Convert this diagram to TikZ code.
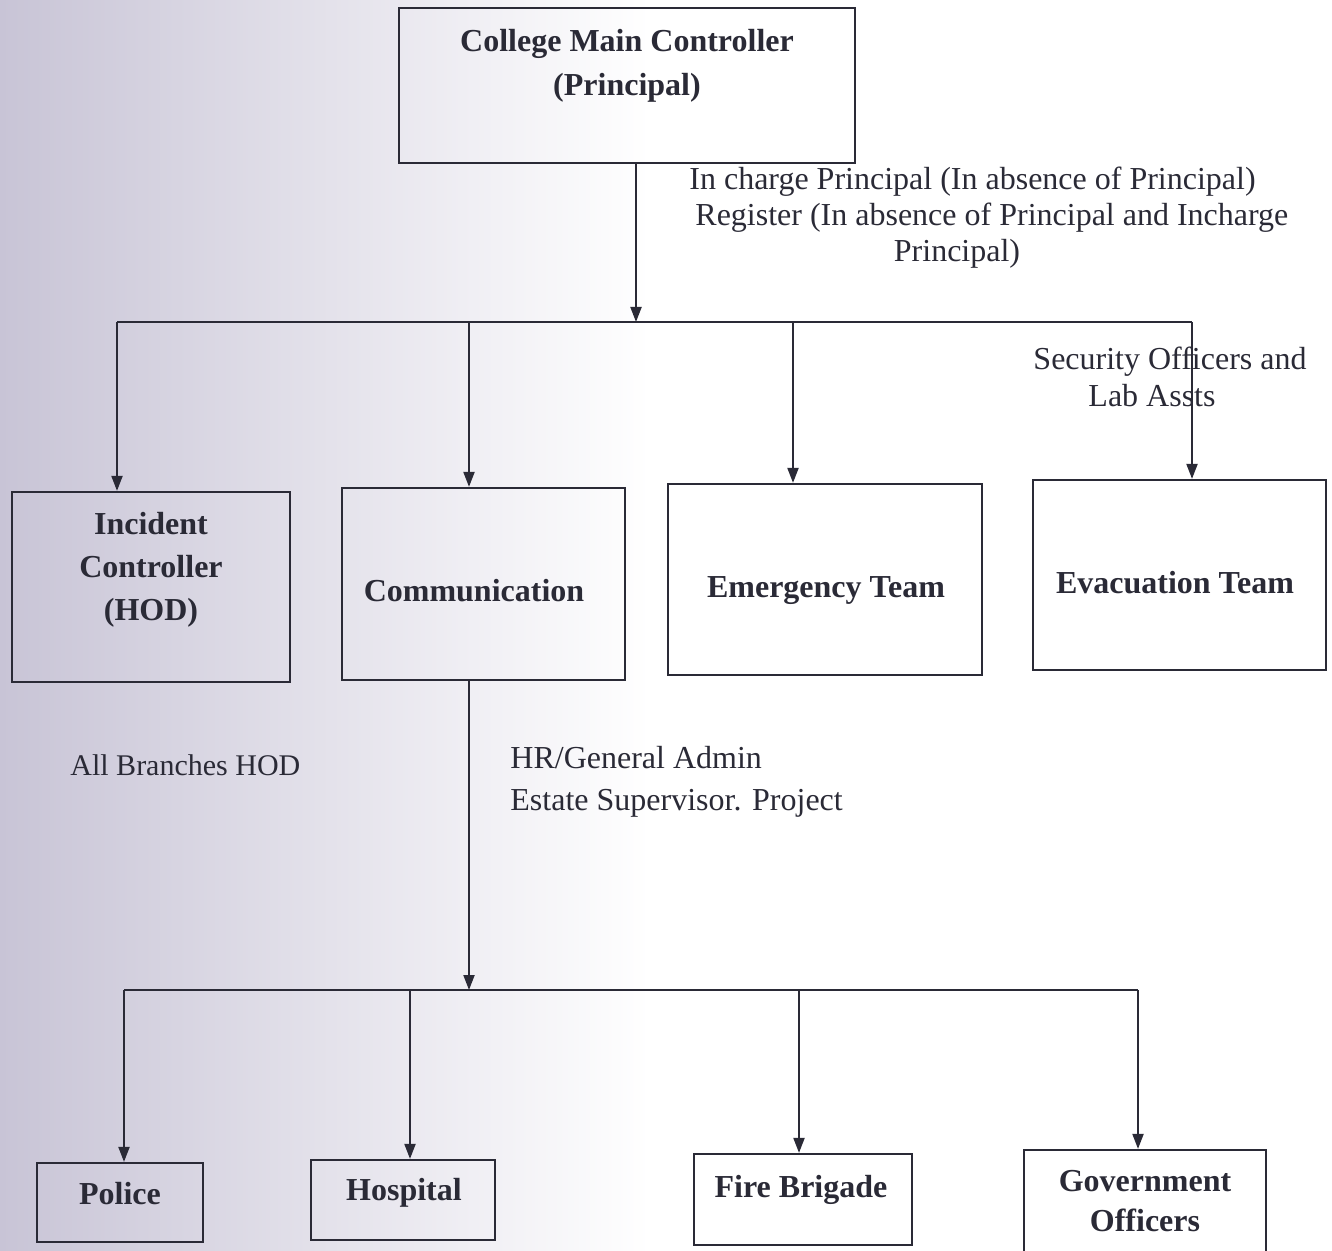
\documentclass[tikz,border=0pt]{standalone}
\usepackage{fontspec}
\setmainfont{Liberation Serif}
\usetikzlibrary{arrows.meta}
\definecolor{ink}{RGB}{42,42,54}
\definecolor{scan}{RGB}{200,196,214}
\begin{document}
\begin{tikzpicture}[x=0.5pt,y=-0.5pt,
  frame/.style={draw=ink, line width=1.1pt, inner sep=0pt},
  btxt/.style={font=\fontsize{16}{21.5}\selectfont\bfseries, align=center, text=ink, inner sep=0pt},
  rtxt/.style={font=\fontsize{16}{18.5}\selectfont, text=ink, inner sep=0pt},
  conn/.style={draw=ink, line width=1pt},
  arr/.style={conn, -{Triangle[width=5.5pt,length=7.5pt]}}]
\useasboundingbox (0,0) rectangle (1332,1251);
\shade[left color=scan, right color=white] (0,0) rectangle (650,1251);
\begin{scope}
\clip (0,0) rectangle (1332,1251);
% boxes
\node[frame, minimum width=228pt, minimum height=77.5pt] (main) at (627,85.5) {};
\node[frame, minimum width=139pt, minimum height=95pt] (inc) at (151,587) {};
\node[frame, minimum width=141.5pt, minimum height=96pt] (com) at (483.5,584) {};
\node[frame, minimum width=157pt, minimum height=95.5pt] (eme) at (825,579.5) {};
\node[frame, minimum width=146.5pt, minimum height=95pt] (eva) at (1179.5,575) {};
\node[frame, minimum width=83pt, minimum height=39.5pt] (pol) at (120,1202.5) {};
\node[frame, minimum width=92pt, minimum height=40pt] (hos) at (403,1200) {};
\node[frame, minimum width=109pt, minimum height=45.5pt] (fir) at (803,1199.5) {};
\node[frame, minimum width=121pt, minimum height=54pt] (gov) at (1145,1204) {};
\end{scope}
% box texts
\node[btxt, font=\fontsize{16}{22}\selectfont\bfseries] (maintxt) at (627,66) {College Main Controller\\(Principal)};
\node[btxt] (inctxt) at (151,570) {Incident\\Controller\\(HOD)};
\node[btxt] (comtxt) at (474,591) {Communication};
\node[btxt] (emetxt) at (826,591) {Emergency Team};
\node[btxt] (evatxt) at (1175,583) {Evacuation Team};
\node[btxt] (poltxt) at (120,1194) {Police};
\node[btxt] (hostxt) at (404,1193) {Hospital};
\node[btxt] (firtxt) at (801,1190) {Fire Brigade};
\node[btxt, font=\fontsize{16}{20}\selectfont\bfseries] (govtxt) at (1145,1201) {Government\\Officers};
% labels
\node[rtxt, anchor=west] (lbl1) at (689,182) {In charge Principal (In absence of Principal)};
\node[rtxt, anchor=west] (lbl2) at (695,218) {Register (In absence of Principal and Incharge};
\node[rtxt] (lbl3) at (957,254) {Principal)};
\node[rtxt] (sec1) at (1170,362) {Security Officers and};
\node[rtxt] (sec2) at (1152,396) {Lab Assts};
\node[rtxt, anchor=west, font=\fontsize{15}{18}\selectfont] (hod) at (70,765) {All Branches HOD};
\node[rtxt, anchor=west] (hr1) at (510,758) {HR/General Admin};
\node[rtxt, anchor=west] (hr2) at (510,803) {Estate Supervisor. Project};
% upper connectors
\coordinate (j0) at (636,322);
\coordinate (jL) at (117,322);
\coordinate (jC) at (469,322);
\coordinate (jE) at (793,322);
\coordinate (jR) at (1192,322);
\draw[arr] (main.south -| j0) -- (j0);
\draw[conn] (jL) -- (jR);
\draw[arr] (jL) -- (jL |- inc.north);
\draw[arr] (jC) -- (jC |- com.north);
\draw[arr] (jE) -- (jE |- eme.north);
\draw[arr] (jR) -- (jR |- eva.north);
% lower connectors
\coordinate (k0) at (469,990);
\coordinate (kL) at (124,990);
\coordinate (kH) at (410,990);
\coordinate (kF) at (799,990);
\coordinate (kR) at (1138,990);
\draw[arr] (com.south -| k0) -- (k0);
\draw[conn] (kL) -- (kR);
\draw[arr] (kL) -- (kL |- pol.north);
\draw[arr] (kH) -- (kH |- hos.north);
\draw[arr] (kF) -- (kF |- fir.north);
\draw[arr] (kR) -- (kR |- gov.north);
\end{tikzpicture}
\end{document}
